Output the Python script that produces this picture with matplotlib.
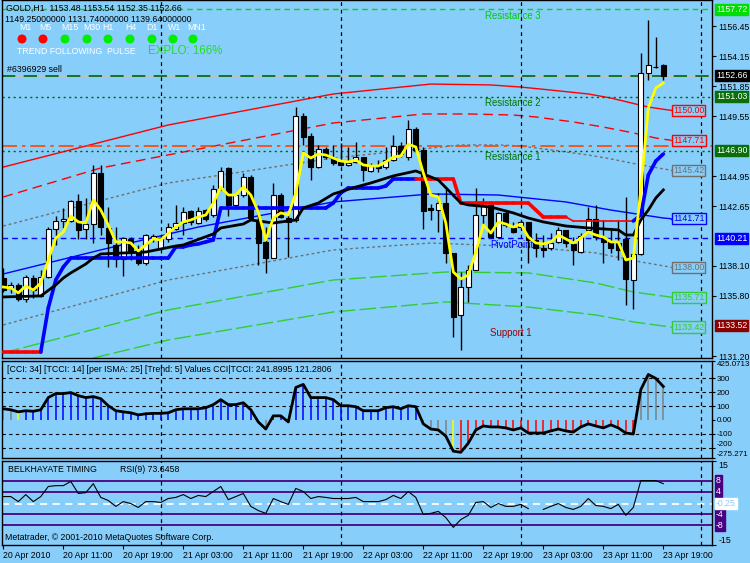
import numpy as np
import matplotlib
matplotlib.use("Agg")
import matplotlib.pyplot as plt
from matplotlib.collections import LineCollection
from matplotlib.transforms import blended_transform_factory as blend

BG = "#87CEFA"
plt.rcParams["font.family"] = ["Liberation Sans", "DejaVu Sans"]
FS = 6.3

# ---------------- data ----------------
time_labels = ["20 Apr 2010", "20 Apr 11:00", "20 Apr 19:00", "21 Apr 03:00", "21 Apr 11:00",
               "21 Apr 19:00", "22 Apr 03:00", "22 Apr 11:00", "22 Apr 19:00", "23 Apr 03:00",
               "23 Apr 11:00", "23 Apr 19:00"]
time_label_bars = [0, 8, 16, 24, 32, 40, 48, 56, 64, 72, 80, 88]
separator_bars = [21, 45, 69, 93]

opens = [1137.17, 1136.41, 1136.64, 1135.57, 1137.17, 1135.80, 1137.25, 1140.92, 1141.53, 1141.53,
         1143.06, 1140.92, 1141.30, 1145.19, 1141.00, 1139.70, 1138.63, 1140.16, 1139.47, 1138.32,
         1140.23, 1139.47, 1140.16, 1140.92, 1141.38, 1142.30, 1141.38, 1142.37, 1141.99, 1144.06,
         1145.59, 1142.76, 1143.52, 1144.90, 1141.61, 1139.93, 1138.70, 1143.52, 1141.76, 1141.61,
         1149.57, 1148.04, 1145.66, 1147.04, 1146.35, 1146.05, 1145.82, 1146.05, 1146.43, 1145.36,
         1145.74, 1145.66, 1146.20, 1147.27, 1146.43, 1148.57, 1146.97, 1142.53, 1142.37, 1142.91,
         1139.09, 1134.34, 1136.48, 1137.78, 1141.99, 1142.76, 1140.31, 1142.15, 1141.00, 1141.07,
         1141.46, 1140.08, 1139.47, 1139.47, 1139.93, 1140.85, 1139.78, 1139.16, 1140.85, 1141.69,
         1140.23, 1139.93, 1139.85, 1140.16, 1137.02, 1139.01, 1152.86, 1153.28, 1153.48]
highs = [1137.94, 1136.87, 1136.79, 1137.40, 1137.40, 1137.78, 1141.07, 1141.92, 1142.53, 1143.14,
         1143.60, 1143.29, 1145.82, 1145.82, 1142.60, 1141.07, 1140.31, 1140.31, 1139.70, 1140.54,
         1140.54, 1140.39, 1141.38, 1142.76, 1142.60, 1142.37, 1142.60, 1142.45, 1144.29, 1145.66,
         1145.66, 1143.68, 1145.21, 1145.05, 1142.76, 1141.07, 1144.44, 1143.68, 1142.15, 1150.25,
         1149.80, 1148.26, 1147.35, 1147.19, 1147.35, 1147.50, 1147.19, 1147.58, 1146.43, 1145.97,
         1146.20, 1147.19, 1148.11, 1147.58, 1149.26, 1148.72, 1147.19, 1142.83, 1143.68, 1144.13,
         1139.09, 1137.63, 1138.17, 1144.06, 1143.29, 1142.99, 1142.22, 1142.37, 1141.46, 1141.61,
         1141.46, 1140.61, 1140.46, 1140.61, 1141.07, 1140.85, 1140.31, 1140.61, 1142.60, 1142.76,
         1141.61, 1140.85, 1141.61, 1143.37, 1139.09, 1154.39, 1156.91, 1155.61, 1153.54]
lows = [1136.10, 1136.03, 1135.41, 1135.34, 1135.64, 1135.72, 1137.17, 1139.70, 1141.00, 1141.46,
        1140.16, 1140.16, 1139.85, 1140.46, 1138.01, 1138.01, 1137.33, 1138.55, 1138.17, 1138.17,
        1139.93, 1139.39, 1139.93, 1140.85, 1140.46, 1141.23, 1141.30, 1141.53, 1141.84, 1143.91,
        1141.92, 1142.60, 1143.37, 1141.61, 1138.17, 1137.56, 1138.70, 1141.76, 1138.78, 1141.46,
        1147.35, 1144.67, 1145.59, 1146.28, 1145.82, 1145.74, 1145.74, 1145.97, 1144.59, 1145.28,
        1145.28, 1145.51, 1146.12, 1146.43, 1146.20, 1146.81, 1140.92, 1141.61, 1140.69, 1138.32,
        1132.66, 1131.67, 1135.34, 1137.78, 1141.07, 1140.23, 1140.23, 1141.07, 1140.61, 1141.00,
        1138.32, 1138.78, 1138.78, 1139.32, 1139.85, 1139.55, 1138.17, 1139.09, 1140.61, 1140.08,
        1138.32, 1139.09, 1138.55, 1135.11, 1134.80, 1138.93, 1152.32, 1153.24, 1152.35]
closes = [1136.25, 1136.64, 1135.57, 1137.25, 1136.25, 1137.25, 1140.92, 1141.53, 1141.69, 1143.06,
          1140.85, 1141.30, 1145.19, 1141.07, 1139.85, 1138.63, 1140.23, 1139.24, 1138.32, 1140.46,
          1140.39, 1140.23, 1141.07, 1141.38, 1142.22, 1141.46, 1142.30, 1141.69, 1143.98, 1145.36,
          1142.76, 1143.52, 1144.90, 1141.76, 1139.85, 1138.70, 1143.52, 1141.84, 1141.46, 1149.57,
          1147.96, 1145.66, 1147.04, 1146.43, 1145.97, 1145.82, 1145.97, 1146.43, 1145.44, 1145.74,
          1145.59, 1146.20, 1147.27, 1146.66, 1148.57, 1146.97, 1142.30, 1142.37, 1142.91, 1139.09,
          1134.19, 1136.48, 1137.78, 1141.99, 1142.68, 1140.31, 1142.15, 1141.23, 1140.69, 1141.46,
          1140.08, 1139.47, 1139.32, 1139.85, 1140.85, 1139.85, 1139.32, 1140.39, 1141.69, 1140.31,
          1139.93, 1139.47, 1139.32, 1137.10, 1139.01, 1152.86, 1153.47, 1153.31, 1152.66]

yellow_ma = [1136.48, 1136.41, 1136.03, 1136.56, 1136.25, 1136.79, 1138.55, 1140.23, 1140.69, 1141.92,
             1141.46, 1141.38, 1143.14, 1142.37, 1141.23, 1139.93, 1139.93, 1139.85, 1139.24, 1139.70,
             1140.16, 1140.08, 1140.61, 1141.07, 1141.46, 1141.61, 1141.84, 1141.99, 1142.91, 1144.13,
             1143.52, 1143.52, 1144.13, 1143.52, 1142.22, 1140.08, 1141.76, 1142.15, 1141.99, 1143.68,
             1146.73, 1146.35, 1146.66, 1146.58, 1146.35, 1146.12, 1146.05, 1146.20, 1145.82, 1145.74,
             1145.74, 1146.05, 1146.43, 1146.51, 1147.42, 1147.19, 1145.21, 1143.52, 1143.37, 1141.38,
             1137.63, 1137.10, 1137.40, 1139.16, 1141.23, 1140.61, 1141.46, 1141.30, 1141.07, 1141.30,
             1140.31, 1139.85, 1139.78, 1139.93, 1140.46, 1140.16, 1139.85, 1140.23, 1140.69, 1140.46,
             1140.31, 1139.93, 1139.93, 1138.55, 1138.70, 1143.91, 1150.18, 1151.71, 1152.09]

black_ma_bars = [0, 5, 7, 8, 9, 11, 12, 13, 19, 21, 23, 24, 28, 29, 32, 33, 34, 36, 39, 40, 42, 44,
                 47, 49, 52, 55, 57, 58, 61, 62, 65, 68, 70, 72, 75, 78, 82, 83, 84, 85, 86, 87, 88]
black_ma = [1135.72, 1135.80, 1136.64, 1137.17, 1137.56, 1138.24, 1138.70, 1139.01, 1139.16, 1139.39,
            1139.62, 1139.70, 1140.54, 1141.00, 1141.30, 1141.61, 1141.53, 1141.38, 1141.61, 1142.53,
            1142.91, 1143.60, 1144.13, 1144.44, 1144.98, 1145.36, 1144.90, 1144.67, 1142.91, 1142.76,
            1142.60, 1142.15, 1141.76, 1141.46, 1141.15, 1141.00, 1140.85, 1140.46, 1140.46, 1141.61,
            1142.37, 1143.29, 1143.91]

trail_line = [1131.51, 1131.51, 1131.51, 1131.51, 1131.51, 1131.51, 1134.88, 1137.02, 1138.01, 1138.70,
              1138.70, 1138.70, 1138.70, 1138.70, 1138.70, 1138.70, 1138.70, 1138.70, 1138.70, 1138.70,
              1138.70, 1138.70, 1138.70, 1139.55, 1139.55, 1139.70, 1139.78, 1139.93, 1140.08, 1142.53,
              1142.53, 1142.53, 1142.53, 1142.53, 1142.53, 1142.53, 1142.53, 1142.53, 1142.53, 1142.53,
              1142.53, 1142.53, 1142.53, 1142.53, 1142.91, 1143.68, 1144.06, 1144.06, 1144.06, 1144.06,
              1144.06, 1144.21, 1144.75, 1144.75, 1144.75, 1144.75, 1144.75, 1144.75, 1144.75, 1144.75,
              1144.75, 1142.91, 1142.91, 1142.91, 1142.91, 1142.91, 1142.91, 1142.91, 1142.91, 1142.91,
              1142.91, 1142.37, 1141.84, 1141.84, 1141.84, 1141.84, 1141.53, 1141.53, 1141.53, 1141.53,
              1141.53, 1141.53, 1141.53, 1141.53, 1141.53, 1141.99, 1145.05, 1146.12, 1146.66]
# trend of each segment: 1 up (blue), -1 down (red), 0 flat (thin red)
trail_trend = [-1] * 5 + [1] * 50 + [-1] * 20 + [0] * 9 + [1] * 4

red1_bars = [0, 22, 44, 57, 65, 69, 73, 78, 81, 86, 89]
red1 = [1145.66, 1148.88, 1151.25, 1152.01, 1151.94, 1151.78, 1151.55, 1151.25, 1150.94, 1150.25, 1150.00]
red2_bars = [0, 13, 44, 56, 62, 68, 71, 76, 80, 84, 87, 89]
red2 = [1143.37, 1145.59, 1149.03, 1149.72, 1149.72, 1149.64, 1149.49, 1149.11, 1148.72, 1148.27,
        1147.88, 1147.71]
gray1_bars = [0, 22, 44, 61, 66, 69, 73, 78, 81, 85, 89]
gray1 = [1141.15, 1144.44, 1146.35, 1147.35, 1147.35, 1147.27, 1146.97, 1146.58, 1146.28, 1145.82, 1145.42]
center_bars = [0, 13, 26, 44, 57, 66, 75, 81, 88, 89]
center = [1137.48, 1139.32, 1141.07, 1142.99, 1143.60, 1143.52, 1142.99, 1142.37, 1141.76, 1141.71]
gray2_bars = [0, 22, 44, 57, 70, 79, 85, 89]
gray2 = [1133.58, 1137.02, 1139.32, 1139.85, 1139.55, 1139.09, 1138.40, 1138.00]
green1_bars = [0, 22, 44, 59, 70, 79, 84, 89]
green1 = [1131.44, 1134.73, 1137.02, 1137.63, 1137.56, 1136.79, 1136.10, 1135.71]
green2_bars = [12, 22, 44, 59, 70, 79, 84, 89]
green2 = [1131.05, 1132.43, 1134.57, 1135.34, 1134.95, 1134.34, 1133.81, 1133.42]

end_labels = [1150.00, 1147.71, 1145.42, 1141.71, 1138.00, 1135.71, 1133.42]

level_r3 = 1157.72
level_bid = 1152.66
level_r2 = 1151.03
level_orange = 1147.27
level_r1 = 1146.90
level_pivot = 1140.21
level_s1 = 1133.52

price_ticks = [1156.45, 1154.15, 1151.85, 1149.55, 1144.95, 1142.65, 1138.10, 1135.80, 1131.20]

cci = [80, 73, 58, 66, 62, 73, 161, 190, 190, 197, 175, 161, 168, 153, 102, 66, 58, 51, 36, 44,
       47, 47, 51, 73, 80, 80, 80, 88, 110, 146, 110, 110, 124, 73, -15, -66, 29, 29, -15, 234,
       256, 161, 161, 161, 146, 102, 102, 95, 66, 66, 66, 88, 95, 80, 102, 95, -29, -66, -73, -117,
       -226, -234, -168, -73, -44, -51, -51, -58, -73, -58, -95, -95, -95, -80, -66, -80, -88, -51,
       -29, -44, -58, -36, -58, -95, -102, 219, 328, 299, 241]
cci_gray_bars = [0, 1, 34, 35, 38, 56, 57, 58, 59, 85, 86, 87, 88]
cci_yellow_bars = [2, 60]
cci_levels = [300, 200, 100, -100, -200]
cci_max, cci_min = 425.0713, -275.271

rsi = [2.3, 2.3, 0.5, 3.0, 0.5, 2.3, 5.9, 6.2, 6.2, 7.7, 3.4, 3.7, 6.9, 2.0, 0.9, -1.2, 0.5, -0.2,
       -1.6, 0.5, 0.5, 0.2, 1.6, 2.0, 3.0, 1.6, 2.7, 2.3, 4.1, 5.9, 1.2, 2.3, 3.4, -1.2, -2.7, -3.7,
       1.6, 0.5, -0.5, 5.2, 4.1, 1.6, 2.3, 2.0, 1.6, 1.6, 1.6, 2.0, 0.5, 0.5, 0.5, 1.2, 2.7, 1.6,
       4.1, 2.0, -4.1, -3.7, -3.0, -5.2, -8.7, -5.9, -4.4, 0.2, 0.5, -1.6, -0.2, -1.2, -1.2, -0.5,
       -2.0, np.nan, -2.3, -1.2, -0.2, -1.6, -2.3, -1.2, 1.6, -0.9, -1.2, -2.0, -0.5, -4.4, -1.6,
       8.0, 8.0, 8.0, 6.9]
rsi_levels = [8, 4, -4, -8]
rsi_mid = -0.25

tf_names = ["M1", "M5", "M15", "M30", "H1", "H4", "D1", "W1", "MN1"]
tf_colors = ["#FF0000", "#FF0000", "#00EE00", "#00EE00", "#00EE00", "#00EE00", "#00EE00", "#00EE00", "#00EE00"]

# ---------------- layout ----------------
W, H = 750, 563
fig = plt.figure(figsize=(7.5, 5.63), dpi=100, facecolor=BG)


def fx(px):
    return px / W


def fy(py):
    return 1 - py / H


def panel(top, bottom):
    return fig.add_axes([fx(2.3), fy(bottom), fx(712) - fx(2.3), (bottom - top) / H])


ax = panel(0, 358)
axc = panel(361, 458)
axr = panel(461, 545)
for a in (ax, axc, axr):
    a.set_facecolor(BG)
    a.set_xlim(-0.13, 94.49)
    for s in a.spines.values():
        s.set_color("black")
        s.set_linewidth(1)
    a.yaxis.tick_right()
    a.tick_params(axis="y", direction="out", length=3, width=0.8, pad=1.5, labelsize=FS, colors="black")
    a.tick_params(axis="x", bottom=False, labelbottom=False)
    for b in separator_bars:
        a.axvline(b, color="black", lw=0.9, ls=(0, (3, 3)), zorder=2)

# ---------------- main panel ----------------
ax.set_ylim(1131.05, 1158.44)
x = np.arange(len(opens))
o, hi, lo, c = map(np.array, (opens, highs, lows, closes))

# channel curves
ax.plot(red1_bars, red1, color="#FF0000", lw=1, zorder=1.2)
ax.plot(red2_bars, red2, color="#FF0000", lw=1, ls=(0, (7, 4)), zorder=1.2)
ax.plot(gray1_bars, gray1, color="#707070", lw=1, ls=(0, (2, 2)), zorder=1.2)
ax.plot(center_bars, center, color="#0000FF", lw=1, zorder=1.2)
ax.plot(gray2_bars, gray2, color="#707070", lw=1, ls=(0, (2, 2)), zorder=1.2)
ax.plot(green1_bars, green1, color="#32CD32", lw=1, ls=(0, (12, 3)), zorder=1.2)
ax.plot(green2_bars, green2, color="#32CD32", lw=1, ls=(0, (12, 3)), zorder=1.2)

# horizontal levels
ax.axhline(level_r3, color="#00DD00", lw=1, ls=(0, (4, 3)), zorder=1.3)
ax.axhline(level_bid, color="#C0C0C0", lw=1, zorder=1.3)
ax.axhline(level_bid, color="#006400", lw=1.2, ls=(0, (8, 5)), zorder=1.4)
ax.axhline(level_r2, color="#006400", lw=1, ls=(0, (1.5, 2.5)), zorder=1.3)
ax.axhline(level_orange, color="#FF4500", lw=1.2, ls=(0, (9, 3, 2, 3)), zorder=1.3)
ax.axhline(level_r1, color="#006400", lw=1, ls=(0, (1.5, 2.5)), zorder=1.3)
ax.axhline(level_pivot, color="#0000FF", lw=1, ls=(0, (4, 3)), zorder=1.3)

# level texts (behind candles)
for txt, px, py, col in [("Resistance 3", 485, 16, "#00CC00"), ("Resistance 2", 485, 103, "#007700"),
                         ("Resistance 1", 485, 157, "#007700"), ("PivotPoint", 490, 245, "#0000FF"),
                         ("Support 1", 490, 333, "#A00000")]:
    ax.text(fx(px), fy(py), txt, transform=fig.transFigure, fontsize=FS + 0.6, color=col,
            va="center", ha="left", zorder=1.5)

# candles
ax.vlines(x, lo, hi, color="black", lw=1, zorder=3)
up = c >= o
body_lo = np.minimum(o, c)
body_h = np.maximum(np.abs(c - o), 0.04)
ax.bar(x, body_h, bottom=body_lo, width=0.62, color=np.where(up, "white", "black"),
       edgecolor="black", linewidth=0.8, zorder=3.2)

# trailing stop line
tl = np.array(trail_line)
segs = [[(i, tl[i]), (i + 1, tl[i + 1])] for i in range(len(tl) - 1)]
seg_cols = ["#0000FF" if t == 1 else "#FF0000" for t in trail_trend]
seg_lw = [2.6 if t != 0 else 1.2 for t in trail_trend]
ax.add_collection(LineCollection(segs, colors=seg_cols, linewidths=seg_lw, zorder=3.6, capstyle="round"))

ax.plot(black_ma_bars, black_ma, color="black", lw=2, zorder=3.7)
ax.plot(x, yellow_ma, color="#FFFF00", lw=2, zorder=3.8)

# curve end labels
end_cols = ["#FF0000", "#FF0000", "#707070", "#0000FF", "#707070", "#33CC33", "#33CC33"]
for v, col in zip(end_labels, end_cols):
    ax.plot([89, 89.6], [v, v], color=col, lw=1, zorder=4)
    ax.text(91.4, v, f"{v:.2f}", color=col, fontsize=FS, ha="center", va="center", zorder=5,
            bbox=dict(boxstyle="square,pad=0.12", fc=BG, ec=col, lw=1))

ax.set_yticks(price_ticks)
ax.set_yticklabels([f"{t:.2f}" for t in price_ticks])

tr = blend(ax.transAxes, ax.transData)
for v, col in [(level_r3, "#00DD00"), (level_bid, "black"), (level_r2, "#0A6E0A"), (level_r1, "#0A6E0A"),
               (level_pivot, "#0000FF"), (level_s1, "#8B0000")]:
    ax.text(1.0056, v, f"{v:.2f}", transform=tr, color="white", fontsize=FS, ha="left", va="center",
            zorder=6, clip_on=False, bbox=dict(boxstyle="square,pad=0.12", fc=col, ec=col))

# header texts
fig.text(fx(6), fy(8), "GOLD,H1  1153.48 1153.54 1152.35 1152.66", fontsize=FS, va="center")
fig.text(fx(5), fy(19), "1149.25000000 1131.74000000 1139.64000000", fontsize=FS, va="center")
for name, cx in zip(tf_names, [25, 45, 70, 92, 108, 131, 152, 175, 197]):
    fig.text(fx(cx), fy(27), name, fontsize=FS, color="white", ha="center", va="center")
ax.scatter([fx(v) for v in [22, 43, 65, 87, 108, 130, 152, 173, 193]], [fy(39)] * 9,
           transform=fig.transFigure, s=42, c=tf_colors, zorder=6, clip_on=False, linewidths=0)
fig.text(fx(17), fy(52), "TREND FOLLOWING  PULSE", fontsize=FS, color="white", va="center")
fig.text(fx(148), fy(51), "EXPLO: 166%", fontsize=8.3, color="#22DD22", va="center")
fig.text(fx(7), fy(70), "#6396929 sell", fontsize=FS, va="center")

# ---------------- CCI panel ----------------
axc.set_ylim(cci_min, cci_max)
cv = np.array(cci, dtype=float)
hcols = []
for i, v in enumerate(cv):
    if i in cci_yellow_bars:
        hcols.append("#FFFF00")
    elif i in cci_gray_bars:
        hcols.append("#808080")
    else:
        hcols.append("#0000FF" if v > 0 else "#FF0000")
for lev in cci_levels:
    axc.axhline(lev, color="black", lw=0.8, ls=(0, (3, 3)), zorder=1)
axc.vlines(x, 0, cv, colors=hcols, lw=1.1, zorder=2)
axc.plot(x, cv, color="black", lw=2, zorder=3)
axc.set_yticks([cci_max, 300, 200, 100, 0, -100, -200, cci_min])
axc.set_yticklabels(["425.0713", "300", "200", "100", "0.00", "-100", "-200", "-275.271"])
axc.tick_params(axis="y", labelsize=5.8, pad=1, length=2.5)
lbls = axc.get_yticklabels()
lbls[0].set_va("top")
lbls[-1].set_va("bottom")
lbls[-2].set_va("bottom")
axc.text(fx(7), fy(370), "[CCI: 34] [TCCI: 14] [per ISMA: 25] [Trend: 5] Values CCI|TCCI: 241.8995 121.2806",
         transform=fig.transFigure, fontsize=FS, va="center", zorder=5)

# ---------------- RSI panel ----------------
axr.set_ylim(-15, 15)
for lev in rsi_levels:
    axr.axhline(lev, color="#4B0082", lw=1.3, zorder=1)
axr.axhline(rsi_mid, color="white", lw=1.3, ls=(0, (4, 3)), zorder=1)
axr.plot(x, rsi, color="black", lw=0.8, zorder=3)
axr.set_yticks([15, -15])
axr.set_yticklabels(["15", "-15"])
rl = axr.get_yticklabels()
rl[0].set_va("top")
rl[1].set_va("bottom")
trr = blend(axr.transAxes, axr.transData)
for lev in rsi_levels:
    axr.text(1.0056, lev, f"{lev}", transform=trr, color="white", fontsize=FS, ha="left", va="center",
             clip_on=False, zorder=6, bbox=dict(boxstyle="square,pad=0.12", fc="#4B0082", ec="#4B0082"))
axr.text(1.0056, rsi_mid, f"{rsi_mid:.2f}", transform=trr, color=BG, fontsize=FS, ha="left", va="center",
         clip_on=False, zorder=6, bbox=dict(boxstyle="square,pad=0.12", fc="white", ec="white"))
axr.text(fx(8), fy(470), "BELKHAYATE TIMING", transform=fig.transFigure, fontsize=FS, va="center")
axr.text(fx(120), fy(470), "RSI(9) 73.6458", transform=fig.transFigure, fontsize=FS, va="center")
axr.text(fx(5), fy(538), "Metatrader, \u00a9 2001-2010 MetaQuotes Software Corp.", transform=fig.transFigure,
         fontsize=FS, va="center")

axr.set_xticks(time_label_bars)
axr.set_xticklabels(time_labels, ha="left")
axr.tick_params(axis="x", bottom=True, labelbottom=True, direction="out", length=3, width=0.8,
                pad=1.2, labelsize=FS, colors="black")

fig.savefig("out.png", dpi=100, facecolor=BG)
